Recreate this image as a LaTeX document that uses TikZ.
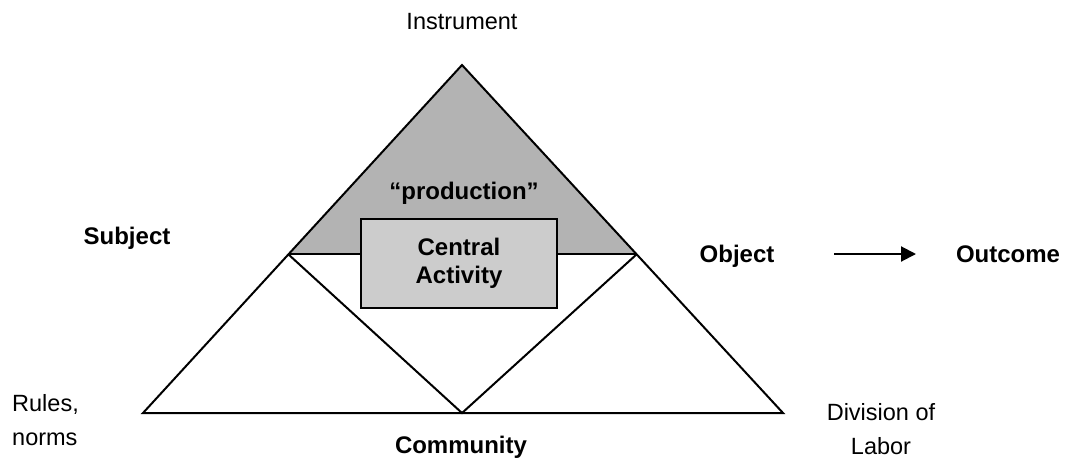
\documentclass[tikz,border=0pt]{standalone}
\usepackage{fontspec}
\setmainfont{Liberation Sans}
\usetikzlibrary{arrows.meta}
\definecolor{topgray}{HTML}{B3B3B3}
\definecolor{boxgray}{HTML}{CCCCCC}
\tikzset{
  edge/.style={draw=black, line width=2pt, line join=miter},
  lbl/.style={font=\fontsize{23.5}{34}\selectfont, inner sep=0pt, align=center},
  blbl/.style={lbl, font=\fontsize{24}{34}\selectfont\bfseries},
  cbox/.style={draw=black, line width=2pt, fill=boxgray, minimum width=196pt, minimum height=89pt, inner sep=0pt, align=center, font=\fontsize{24}{28}\selectfont\bfseries},
}
\begin{document}
\begin{tikzpicture}[x=1pt,y=-1pt]
\useasboundingbox (0,0) rectangle (1068,471);
\coordinate (apex) at (462,65);
\coordinate (subj) at (288,254);
\coordinate (obj) at (637,254);
\coordinate (bl) at (143,413);
\coordinate (br) at (783,413);
\coordinate (bm) at (462,413);
% shaded production triangle
\fill[topgray] (apex) -- (subj) -- (obj) -- cycle;
% outer triangle
\draw[edge] (apex) -- (bl) -- (br) -- cycle;
\draw[edge] (subj) -- (obj);
\draw[edge] (subj) -- (bm) -- (obj);
% central box
\node[cbox] (central) at (459,263.5) {Central\\Activity};
% labels
\node[lbl] (instr) at (462,22) {Instrument};
\node[blbl] (prod) at (464,193) {“production”};
\node[blbl] (subject) at (127,238) {Subject};
\node[blbl] (object) at (737,256) {Object};
\node[blbl] (outcome) at (1008,254) {Outcome};
\node[blbl] (community) at (461,447) {Community};
\node[lbl, align=left, anchor=west] (rules) at (12,420) {Rules,\\norms};
\node[lbl] (division) at (881,429) {Division of\\Labor};
\coordinate (arrs) at (834,254);
\coordinate (arre) at (916,254);
\draw[line width=2pt, -{Triangle[length=15pt,width=15pt]}] (arrs) -- (arre);
\end{tikzpicture}
\end{document}
